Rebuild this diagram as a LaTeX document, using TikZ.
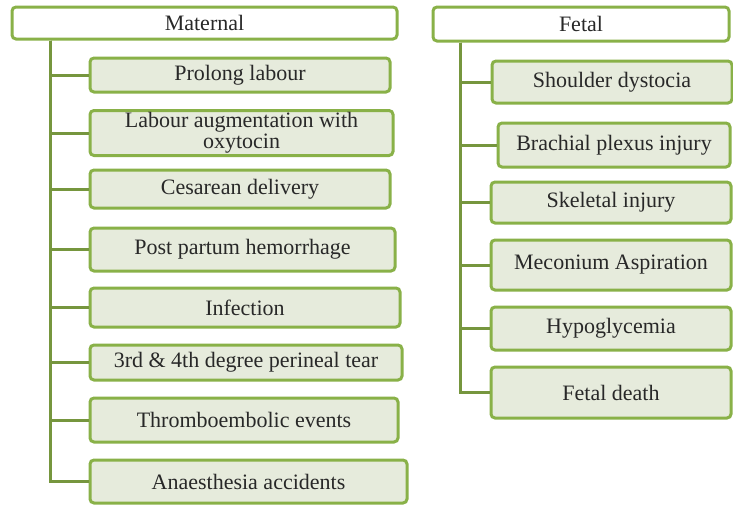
\documentclass[tikz,border=0pt]{standalone}
\usepackage{fontspec}
\setmainfont{Liberation Serif}
\usepackage{tikz}
\usetikzlibrary{positioning}
\definecolor{leafGreen}{RGB}{137,177,72}
\definecolor{oliveLine}{RGB}{118,150,62}
\definecolor{paleOlive}{RGB}{230,235,220}
\definecolor{inkGrey}{RGB}{40,40,40}

\begin{document}
\begin{tikzpicture}[x=0.5pt,y=-0.5pt,
  every node/.style={font=\fontsize{11}{10.5}\selectfont,align=center,text=inkGrey,inner sep=1pt},
  headbox/.style={draw=leafGreen,line width=1.5pt,rounded corners=2pt,fill=white},
  itembox/.style={draw=leafGreen,line width=1.5pt,rounded corners=2pt,fill=paleOlive},
  conn/.style={draw=oliveLine,line width=1.5pt}]
\useasboundingbox (0,0) rectangle (733,505);
% maternal column
\node[headbox,minimum width=192.5pt,minimum height=16pt] (mat) at (204.5,23) {Maternal};
\node[itembox,minimum width=150pt,minimum height=17pt] (m1) at (240,75) {Prolong labour};
\node[itembox,minimum width=151.5pt,minimum height=22pt] (m2) at (241.5,133) {Labour augmentation with\\oxytocin};
\node[itembox,minimum width=150pt,minimum height=19pt] (m3) at (240,189) {Cesarean delivery};
\node[itembox,minimum width=152.5pt,minimum height=21.5pt] (m4) at (242.5,249.5) {Post partum hemorrhage};
\node[itembox,minimum width=155pt,minimum height=19.5pt] (m5) at (245,307.5) {Infection};
\node[itembox,minimum width=156pt,minimum height=17.5pt] (m6) at (246,362.5) {3rd \& 4th degree perineal tear};
\node[itembox,minimum width=154pt,minimum height=22pt] (m7) at (244,420) {Thromboembolic events};
\node[itembox,minimum width=158.5pt,minimum height=21.5pt] (m8) at (248.5,481.5) {Anaesthesia accidents};
% fetal column
\node[headbox,minimum width=148pt,minimum height=17pt] (fet) at (581,24) {Fetal};
\node[itembox,minimum width=120pt,minimum height=21pt] (f1) at (612,82) {Shoulder dystocia};
\node[itembox,minimum width=116pt,minimum height=22pt] (f2) at (614,145) {Brachial plexus injury};
\node[itembox,minimum width=120pt,minimum height=20.5pt] (f3) at (611,202.5) {Skeletal injury};
\node[itembox,minimum width=120pt,minimum height=25pt] (f4) at (611,265) {Meconium Aspiration};
\node[itembox,minimum width=120pt,minimum height=21.5pt] (f5) at (611,328.5) {Hypoglycemia};
\node[itembox,minimum width=120pt,minimum height=25.5pt] (f6) at (611,392.5) {Fetal death};
% trunks
\coordinate (mt) at ([xshift=20pt]mat.south west);
\coordinate (ft) at ([xshift=14.5pt]fet.south west);
\foreach \i in {1,...,8}
  \draw[conn] (mt) |- (m\i.west);
\foreach \i in {1,...,6}
  \draw[conn] (ft) |- (f\i.west);
\end{tikzpicture}
\end{document}
